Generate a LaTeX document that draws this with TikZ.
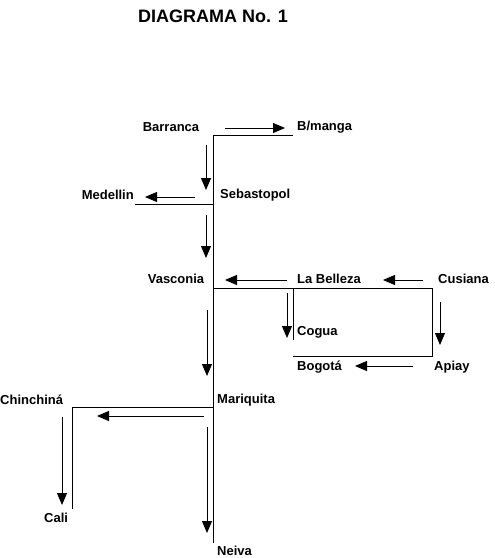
\documentclass[tikz,border=0pt]{standalone}
\usepackage{fontspec}
\setmainfont{Liberation Sans}
\usetikzlibrary{arrows.meta}
\tikzset{
    city/.style={font=\bfseries\fontsize{13}{15}\selectfont, inner sep=0pt},
    pipe/.style={line width=0.8pt},
    flow/.style={line width=0.8pt, -{Triangle[length=12pt,width=10pt]}}
}
\begin{document}
\begin{tikzpicture}[x=1pt, y=-1pt]
    \useasboundingbox (0, 0) rectangle (495, 558);
    \node (T) at (213, 16) {\bfseries\fontsize{18}{20}\selectfont DIAGRAMA No. 1};
    % stations
    \node[city] (Barranca) at (171, 127) {Barranca};
    \node[city, anchor=west] (Bmanga) at (297, 127) {B/manga};
    \node[city, anchor=west] (Sebastopol) at (220, 195) {Sebastopol};
    \node[city, anchor=east] (Medellin) at (134, 195) {Medellin};
    \node[city] (Vasconia) at (176, 279) {Vasconia};
    \node[city, anchor=west] (Belleza) at (297, 279) {La Belleza};
    \node[city, anchor=west] (Cusiana) at (438, 279) {Cusiana};
    \node[city, anchor=west] (Cogua) at (297, 332) {Cogua};
    \node[city, anchor=west] (Bogota) at (297, 367) {Bogotá};
    \node[city, anchor=west] (Apiay) at (434, 367) {Apiay};
    \node[city, anchor=west] (Mariquita) at (217, 400) {Mariquita};
    \node[city, anchor=west] (Chinchina) at (0, 400) {Chinchiná};
    \node[city, anchor=west] (Cali) at (44, 518) {Cali};
    \node[city, anchor=west] (Neiva) at (217, 551) {Neiva};
    % pipelines
    \coordinate (P1) at (293, 135);
    \coordinate (P2) at (213, 135);
    \coordinate (P3) at (213, 543);
    \coordinate (M1) at (135, 204);
    \coordinate (M2) at (213, 204);
    \coordinate (C1) at (213, 288);
    \coordinate (C2) at (432, 288);
    \coordinate (C3) at (432, 356);
    \coordinate (C4) at (293, 356);
    \coordinate (G1) at (293, 288);
    \coordinate (G2) at (293, 340);
    \coordinate (H1) at (213, 407);
    \coordinate (H2) at (72, 407);
    \coordinate (H3) at (72, 509);
    \draw[pipe] (P1)--(P2)--(P3);
    \draw[pipe] (M1)--(M2);
    \draw[pipe] (C1)--(C2)--(C3)--(C4);
    \draw[pipe] (G1)--(G2);
    \draw[pipe] (H1)--(H2)--(H3);
    % flow directions
    \coordinate (A1) at (225, 128);  \coordinate (B1) at (285, 128);
    \coordinate (A2) at (206, 145);  \coordinate (B2) at (206, 190);
    \coordinate (A3) at (195, 197);  \coordinate (B3) at (145, 197);
    \coordinate (A4) at (206, 215);  \coordinate (B4) at (206, 258);
    \coordinate (A5) at (287, 280);  \coordinate (B5) at (225, 280);
    \coordinate (A6) at (423, 280);  \coordinate (B6) at (383, 280);
    \coordinate (A7) at (287, 293);  \coordinate (B7) at (287, 338);
    \coordinate (A8) at (440, 302);  \coordinate (B8) at (440, 345);
    \coordinate (A9) at (413, 366);  \coordinate (B9) at (355, 366);
    \coordinate (A10) at (207, 310); \coordinate (B10) at (207, 376);
    \coordinate (A11) at (204, 416); \coordinate (B11) at (97, 416);
    \coordinate (A12) at (62, 417);  \coordinate (B12) at (62, 505);
    \coordinate (A13) at (207, 427); \coordinate (B13) at (207, 533);
    \foreach \i in {1,...,13}
        \draw[flow] (A\i)--(B\i);
\end{tikzpicture}
\end{document}
